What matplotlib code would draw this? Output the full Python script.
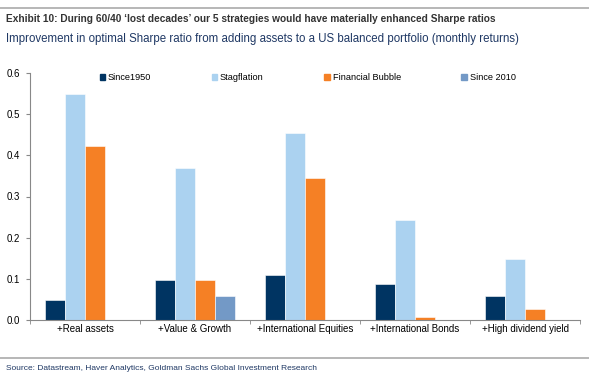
import matplotlib.pyplot as plt
import numpy as np
from matplotlib.lines import Line2D

categories = ['+Real assets', '+Value & Growth', '+International Equities',
              '+International Bonds', '+High dividend yield']
series_names = ['Since1950', 'Stagflation', 'Financial Bubble', 'Since 2010']
since1950 = [0.049, 0.097, 0.110, 0.087, 0.058]
stagflation = [0.549, 0.369, 0.454, 0.244, 0.148]
bubble = [0.422, 0.097, 0.345, 0.007, 0.027]
since2010 = [0.0, 0.058, 0.0, 0.0, 0.0]
colors = ['#003462', '#abd2f0', '#f58025', '#7399c6']

plt.rcParams['font.family'] = ['Liberation Sans', 'DejaVu Sans']

W, H = 589, 376
fig = plt.figure(figsize=(W / 100, H / 100), dpi=100)

# axes box in pixel coords: x 30..580, y 73(0.6)..320(0.0)
ax = fig.add_axes([30 / W, 1 - 320 / H, 550 / W, (320 - 73) / H])

x = np.arange(len(categories))
bw = 0.182
for i, (vals, name) in enumerate(zip([since1950, stagflation, bubble, since2010], series_names)):
    ax.bar(x + (i - 1.5) * bw, vals, bw, color=colors[i], label=name,
           edgecolor='white', linewidth=0.4)

ax.set_xlim(-0.5, len(categories) - 0.5)
ax.set_ylim(0, 0.6)
ax.set_yticks(np.arange(0, 0.61, 0.1))
ax.set_yticklabels(['0.0', '0.1', '0.2', '0.3', '0.4', '0.5', '0.6'])
ax.set_xticks(x)
ax.set_xticklabels(categories)
ax.set_xticks(np.arange(-0.5, len(categories), 1), minor=True)
ax.tick_params(axis='x', which='major', length=0, labelsize=7, pad=3)
ax.tick_params(axis='x', which='minor', length=3, color='#888888', direction='out')
ax.tick_params(axis='y', length=3, color='#888888', labelsize=7, pad=4)
for s in ['top', 'right']:
    ax.spines[s].set_visible(False)
for s in ['left', 'bottom']:
    ax.spines[s].set_color('#888888')
    ax.spines[s].set_linewidth(0.8)

handles = [plt.Rectangle((0, 0), 1, 1, color=c) for c in colors]
leg = fig.legend(handles, series_names, loc='center left', ncol=4,
                 bbox_to_anchor=(96 / W, 1 - 78 / H), frameon=False,
                 fontsize=6.6, handlelength=0.6, handleheight=0.6,
                 handletextpad=0.3, columnspacing=6.6, borderaxespad=0)

# header / footer
fig.add_artist(Line2D([0, 1], [1 - 8 / H, 1 - 8 / H], color='#aaaaaa', lw=1.2))
fig.text(6 / W, 1 - 19 / H, "Exhibit 10: During 60/40 \u2018lost decades\u2019 our 5 strategies would have materially enhanced Sharpe ratios",
         fontsize=7.3, fontweight='bold', color='#333333', va='center')
fig.text(6 / W, 1 - 39 / H, 'Improvement in optimal Sharpe ratio from adding assets to a US balanced portfolio (monthly returns)',
         fontsize=8.3, color='#1f3864', va='center')
fig.add_artist(Line2D([0, 1], [1 - 358 / H, 1 - 358 / H], color='#aaaaaa', lw=1.2))
fig.text(6 / W, 1 - 369 / H, 'Source: Datastream, Haver Analytics, Goldman Sachs Global Investment Research',
         fontsize=6.0, color='#1f3864', va='center')

fig.savefig('out.png', dpi=100)
